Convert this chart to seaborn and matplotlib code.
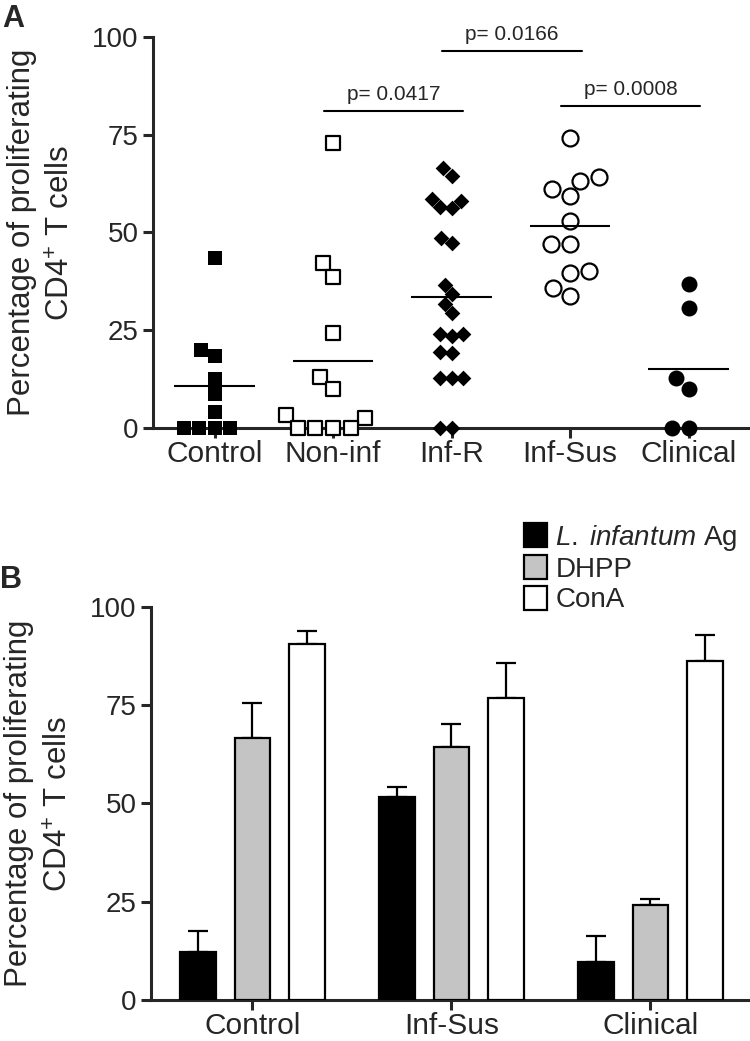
import numpy as np
import pandas as pd
import matplotlib.pyplot as plt
import seaborn as sns

# ---- panel A: individual dogs, % proliferating CD4+ T cells ----
groups_a = ["Control", "Non-inf", "Inf-R", "Inf-Sus", "Clinical"]
control = [43.5, 20.0, 18.4, 12.5, 8.7, 4.0, 0, 0, 0, 0]
non_inf = [72.9, 42.2, 38.6, 24.3, 13.0, 10.0, 3.3, 2.6, 0, 0, 0, 0]
inf_r = [66.5, 64.5, 58.5, 58.0, 56.5, 56.3, 48.6, 47.4, 36.6, 34.3, 31.7,
         29.4, 24.0, 24.0, 23.5, 19.4, 19.2, 12.8, 12.8, 12.8, 0, 0]
inf_sus = [74.2, 64.2, 63.2, 61.1, 59.3, 52.9, 47.0, 47.0, 40.2, 39.6, 35.8, 33.8]
clinical = [36.8, 30.7, 12.8, 10.0, 0, 0]

p_labels = ["p= 0.0417", "p= 0.0166", "p= 0.0008"]
p_pairs = [(1, 2), (2, 3), (3, 4)]
p_heights = [81, 96.4, 82.4]

# ---- panel B: mean +/- SEM per stimulus ----
groups_b = ["Control", "Inf-Sus", "Clinical"]
stimuli = ["L. infantum Ag", "DHPP", "ConA"]
ag_mean = [12.2, 51.6, 9.7]
ag_sem = [5.4, 2.6, 6.6]
dhpp_mean = [66.7, 64.4, 24.2]
dhpp_sem = [8.9, 5.8, 1.5]
cona_mean = [90.6, 76.8, 86.3]
cona_sem = [3.3, 9.0, 6.6]

sns.set_style("ticks")
plt.rcParams["font.family"] = ["Liberation Sans", "DejaVu Sans"]
plt.rcParams["mathtext.fontset"] = "custom"
plt.rcParams["mathtext.rm"] = "Liberation Sans"
plt.rcParams["mathtext.it"] = "Liberation Sans:italic"

ylab = "Percentage of proliferating\nCD4$^{+}$ T cells"

fig = plt.figure(figsize=(7.5, 10.41), dpi=100)
axA = fig.add_axes([0.204, 0.5889, 0.793, 0.3756])
axB = fig.add_axes([0.2013, 0.0394, 0.7987, 0.3775])


def style_axis(ax, label_y):
    sns.despine(ax=ax)
    for s in ["left", "bottom"]:
        ax.spines[s].set_linewidth(2.2)
    ax.tick_params(axis="both", width=2.2, length=7, direction="out")
    ax.tick_params(axis="y", labelsize=20)
    ax.tick_params(axis="x", labelsize=21.5, pad=2)
    ax.set_ylim(0, 100)
    ax.set_yticks([0, 25, 50, 75, 100])
    ax.set_ylabel(ylab, fontsize=22.5, linespacing=1.45)
    ax.yaxis.set_label_coords(-0.128 * 0.793 / ax.get_position().width, label_y)
    ax.set_xlabel("")


# panel A
dfA = pd.DataFrame({
    "group": np.repeat(groups_a, [len(control), len(non_inf), len(inf_r),
                                  len(inf_sus), len(clinical)]),
    "value": control + non_inf + inf_r + inf_sus + clinical,
})
marker_style = {
    "Control": dict(marker="s", color="black", size=10.5),
    "Non-inf": dict(marker="s", color="white", edgecolor="black", linewidth=1.6, size=10.5),
    "Inf-R": dict(marker="D", color="black", size=8),
    "Inf-Sus": dict(marker="o", color="white", edgecolor="black", linewidth=1.6, size=11.5),
    "Clinical": dict(marker="o", color="black", size=11.5),
}
for g in groups_a:
    sns.swarmplot(data=dfA[dfA.group == g], x="group", y="value", order=groups_a,
                  ax=axA, clip_on=False, zorder=4, warn_thresh=1, **marker_style[g])
means = dfA.groupby("group")["value"].mean()
for i, g in enumerate(groups_a):
    axA.hlines(means[g], i - 0.34, i + 0.34, color="black", lw=1.5, zorder=5)
for (i0, i1), h, lab in zip(p_pairs, p_heights, p_labels):
    x0, x1 = i0 - 0.08, i1 + 0.1
    axA.plot([x0, x1], [h, h], color="black", lw=1.5, clip_on=False)
    axA.text((x0 + x1) / 2, h + 1.8, lab, ha="center", va="bottom", fontsize=15)
axA.set_xlim(-0.52, 4.5)
style_axis(axA, 0.5)

# panel B
dfB = pd.DataFrame({
    "group": groups_b * 3,
    "stim": np.repeat(stimuli, 3),
    "value": ag_mean + dhpp_mean + cona_mean,
    "err": ag_sem + dhpp_sem + cona_sem,
})
sns.barplot(data=dfB, x="group", y="value", hue="stim", order=groups_b,
            hue_order=stimuli, palette=["black", "#c4c4c4", "white"],
            edgecolor="black", linewidth=1.6, width=0.82, gap=0.34,
            errorbar=None, ax=axB, zorder=3)
bar_conts = list(axB.containers)
for k, cont in enumerate(bar_conts):
    for bar in cont:
        xc = bar.get_x() + bar.get_width() / 2
        gi = int(round(xc))
        row = dfB[(dfB.group == groups_b[gi]) & (dfB.stim == stimuli[k])].iloc[0]
        axB.errorbar(xc, row["value"], yerr=[[0], [row["err"]]], fmt="none",
                     ecolor="black", elinewidth=1.6, capsize=7, capthick=1.6, zorder=2)
axB.set_xlim(-0.51, 2.5)
style_axis(axB, 0.5)

handles, _ = axB.get_legend_handles_labels()
leg = axB.legend(handles, [r"$\it{L.\;infantum}$ Ag", "DHPP", "ConA"],
                 loc="upper left", bbox_to_anchor=(0.6, 1.25), frameon=False,
                 fontsize=20, handlelength=0.82, handleheight=0.95,
                 handletextpad=0.3, labelspacing=0.1, borderpad=0)
for h in leg.legend_handles:
    h.set_edgecolor("black")
    h.set_linewidth(1.6)

fig.text(0.003, 0.996, "A", fontsize=22, fontweight="bold", va="top", ha="left")
fig.text(0.0, 0.457, "B", fontsize=22, fontweight="bold", va="top", ha="left")

fig.savefig("out.png", dpi=100)
